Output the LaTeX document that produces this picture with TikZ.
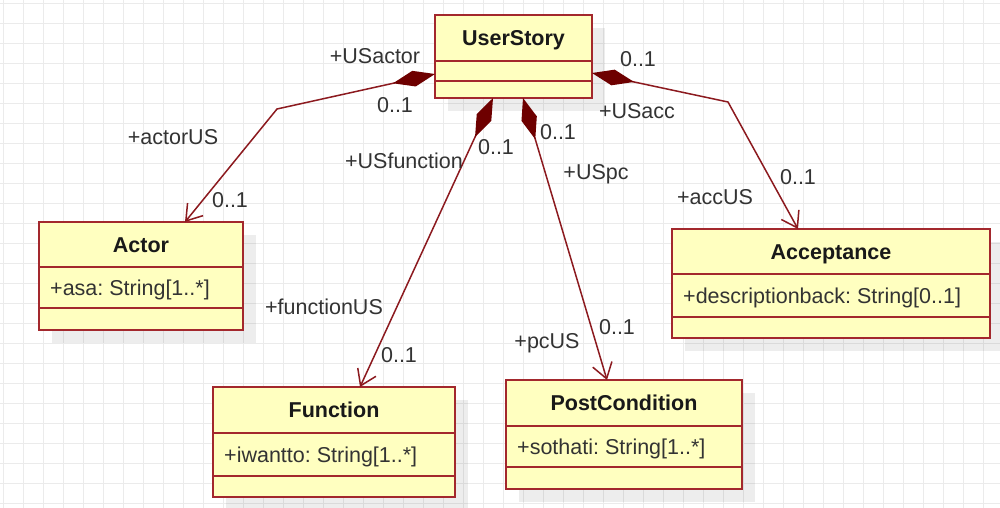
\documentclass[tikz,border=0pt]{standalone}
\usepackage{fontspec}
\setmainfont{Liberation Sans}
\usetikzlibrary{arrows.meta}
\frenchspacing

\definecolor{gridc}{HTML}{EBEBEB}
\definecolor{boxfill}{HTML}{FFFFC0}
\definecolor{boxline}{HTML}{A3282D}
\definecolor{assoc}{HTML}{8C1A1F}
\definecolor{diam}{HTML}{6E0000}
\definecolor{labelc}{HTML}{333333}

\tikzset{
  gridline/.style={gridc, line width=0.9pt},
  classbox/.style={draw=boxline, fill=boxfill, line width=1.8pt, inner sep=0pt, outer sep=0pt},
  divider/.style={boxline, line width=1.8pt},
  shadowbox/.style={fill=black, opacity=0.07},
  titletext/.style={font=\fontsize{21.5}{24}\selectfont\bfseries, text=black!90, inner sep=0pt, text height=15pt, text depth=0pt},
  attrtext/.style={font=\fontsize{21.5}{24}\selectfont, text=labelc, inner sep=0pt, text height=15pt, text depth=0pt, anchor=west},
  lbl/.style={font=\fontsize{21.5}{24}\selectfont, text=labelc, inner sep=0pt, text height=15pt, text depth=0pt},
  assocline/.style={draw=assoc, line width=1.5pt, line join=miter},
  comp/.style={assocline, {Diamond[length=43pt,width=16pt,fill=diam,color=diam]}-{Straight Barb[length=15pt,width=20pt]}},
}

% class box: name, x1, y1, x2, y2, first divider, second divider, title, attribute
\newcommand\umlclass[9]{%
  \fill[shadowbox] (#2+13,#3+13) rectangle (#4+13,#5+13);
  \node[classbox, minimum width={#4-#2}, minimum height={#5-#3}] (#1) at ({(#2+#4)/2},{(#3+#5)/2}) {};
  \draw[divider] (#2,#6) -- (#4,#6);
  \draw[divider] (#2,#7) -- (#4,#7);
  \node[titletext] (#1-title) at ({(#2+#4)/2},{(#3+#6)/2}) {#8};
  \node[attrtext] (#1-attr) at (#2+11,{(#6+#7)/2}) {#9};
}

\begin{document}
\begin{tikzpicture}[x=1pt, y=-1pt]
  \useasboundingbox (0,0) rectangle (1000,508);
  \fill[white] (0,0) rectangle (1000,508);

  % background grid
  \foreach \i in {0,...,49} \draw[gridline] (3+20*\i,0) -- (3+20*\i,508);
  \foreach \j in {0,...,25} \draw[gridline] (0,3+20*\j) -- (1000,3+20*\j);

  % classes
  \umlclass{us}{435}{15}{592}{98}{61}{81}{UserStory}{}
  \umlclass{actor}{39}{222}{243}{330}{267}{308}{Actor}{+asa: String[1..*]}
  \umlclass{func}{213}{387}{455}{497}{433}{476}{Function}{+iwantto: String[1..*]}
  \umlclass{pc}{506}{380}{742}{489}{426}{467}{PostCondition}{+sothati: String[1..*]}
  \umlclass{acc}{672}{229}{990}{338}{274}{317}{Acceptance}{+descriptionback: String[0..1]}

  % composition associations
  \draw[comp] ([yshift=-17.5pt]us.west) -- (277,109) -- ([xshift=44pt]actor.north);
  \draw[comp] ([xshift=-20.5pt]us.south) -- ([xshift=26pt]func.north);
  \draw[comp] ([xshift=9.5pt]us.south) -- ([xshift=-17pt]pc.north);
  \draw[comp] ([yshift=-16.5pt]us.east) -- (728,102) -- ([xshift=-33pt]acc.north);

  % role names and multiplicities
  \node[lbl] (l-usactor) at (375,56) {+USactor};
  \node[lbl] (m-usactor) at (395,105) {0..1};
  \node[lbl] (l-actorus) at (173,137) {+actorUS};
  \node[lbl] (m-actorus) at (230,200) {0..1};

  \node[lbl] (l-usfunc) at (404,161) {+USfunction};
  \node[lbl] (m-usfunc) at (496,147) {0..1};
  \node[lbl] (l-funcus) at (324,307) {+functionUS};
  \node[lbl] (m-funcus) at (399,355) {0..1};

  \node[lbl] (m-uspc) at (558,132) {0..1};
  \node[lbl] (l-uspc) at (596,172) {+USpc};
  \node[lbl] (l-pcus) at (547,341) {+pcUS};
  \node[lbl] (m-pcus) at (617,327) {0..1};

  \node[lbl] (m-usacc) at (638,59) {0..1};
  \node[lbl] (l-usacc) at (637,111) {+USacc};
  \node[lbl] (l-accus) at (715,197) {+accUS};
  \node[lbl] (m-accus) at (798,177) {0..1};
\end{tikzpicture}
\end{document}
